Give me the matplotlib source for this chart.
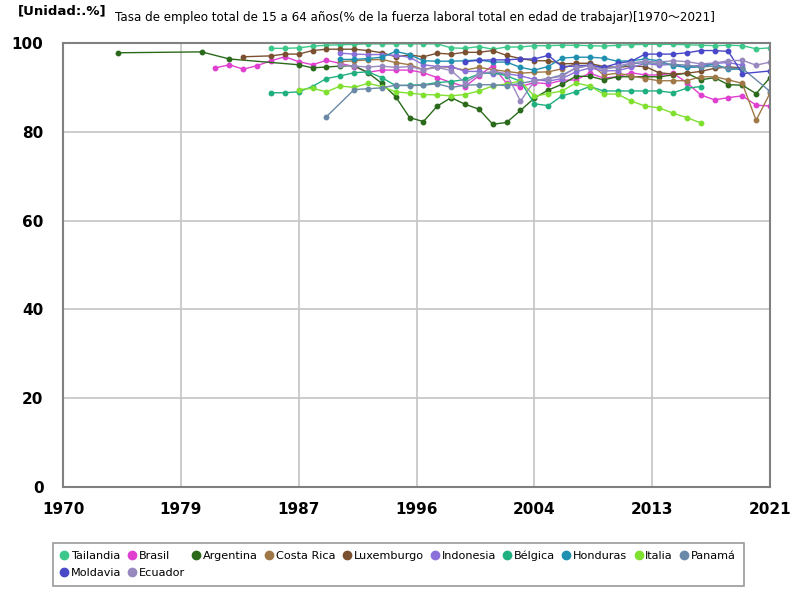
import matplotlib
matplotlib.use("Agg")
import matplotlib.pyplot as plt
from matplotlib.lines import Line2D

# --- DATA ---
tailandia_years = list(range(1985, 2022))
tailandia = [98.8, 98.8, 98.9, 99.3, 99.5, 99.6, 99.7, 99.8, 99.8, 99.8,
             99.8, 99.8, 99.8, 98.9, 98.8, 99.2, 98.6, 99.1, 99.1, 99.4,
             99.4, 99.5, 99.5, 99.4, 99.3, 99.5, 99.6, 99.7, 99.7, 99.7,
             99.6, 99.5, 99.4, 99.5, 99.4, 98.7, 98.9]

brasil_years = list(range(1981, 2022))
brasil = [94.4, 95.1, 94.1, 94.9, 96.0, 96.9, 95.8, 95.1, 96.1, 95.4,
          94.7, 93.4, 93.9, 93.9, 93.9, 93.3, 92.2, 91.1, 90.2, 92.6,
          94.9, 90.9, 90.2, 91.1, 90.8, 91.6, 91.7, 93.2, 92.1, 92.4,
          93.3, 92.8, 92.8, 93.2, 91.1, 88.3, 87.2, 87.7, 88.1, 86.0, 85.8]

argentina_years = [1974, 1980, 1982] + list(range(1987, 2022))
argentina = [97.8, 98.0, 96.4,
             95.1, 94.4, 94.6, 94.8, 94.9, 93.3, 90.9, 87.9, 83.2, 82.3,
             85.8, 87.7, 86.2, 85.1, 81.7, 82.1, 84.8, 87.6, 89.4, 90.7,
             92.5, 92.5, 91.7, 92.4, 92.4, 92.4, 92.4, 92.8, 93.2, 91.7,
             92.2, 90.6, 90.5, 88.6, 92.2]

costa_rica_years = list(range(1990, 2022))
costa_rica = [95.8, 96.0, 96.2, 96.3, 95.6, 95.1, 94.0, 94.7, 94.5, 93.9,
              94.5, 94.0, 93.6, 93.2, 93.4, 93.5, 94.2, 95.4, 95.4, 92.8,
              93.2, 92.6, 92.0, 91.5, 91.5, 91.5, 92.4, 92.4, 91.7, 90.9,
              82.6, 88.7]

luxemburgo_years = [1983] + list(range(1985, 2020))
luxemburgo = [96.9,
              97.1, 97.5, 97.5, 98.3, 98.6, 98.6, 98.6, 98.3, 97.8, 96.9,
              97.3, 96.9, 97.7, 97.5, 97.9, 97.9, 98.3, 97.2, 96.5, 96.0,
              96.0, 95.3, 95.4, 95.4, 94.7, 94.5, 94.8, 94.7, 93.3, 93.0,
              93.2, 93.6, 94.3, 94.6, 94.4]

indonesia_years = list(range(1990, 2020))
indonesia = [97.7, 97.5, 97.4, 97.4, 97.2, 96.8, 95.1, 94.7, 94.7, 93.6,
             93.6, 93.0, 93.1, 92.6, 91.8, 91.4, 92.0, 93.5, 94.4, 93.7,
             93.8, 94.5, 95.4, 95.0, 95.2, 94.6, 95.0, 95.4, 95.6, 95.0]

belgica_years = list(range(1985, 2017))
belgica = [88.8, 88.8, 89.0, 90.2, 92.0, 92.6, 93.3, 93.5, 92.2, 90.4,
           90.5, 90.6, 91.1, 91.3, 91.8, 93.0, 93.4, 92.6, 91.4, 86.3,
           85.9, 88.1, 89.0, 90.2, 89.2, 89.2, 89.2, 89.2, 89.2, 88.8,
           89.8, 90.2]

honduras_years = list(range(1990, 2020))
honduras = [96.3, 96.3, 96.5, 96.8, 98.1, 97.4, 96.0, 95.9, 95.9, 96.0,
            96.2, 95.7, 95.7, 94.5, 93.9, 94.7, 96.6, 96.8, 96.8, 96.6,
            95.9, 96.0, 96.4, 96.0, 94.9, 94.5, 94.6, 95.3, 94.1, 94.1]

italia_years = list(range(1987, 2017))
italia = [89.5, 89.8, 89.0, 90.3, 90.0, 90.9, 90.2, 89.0, 88.7, 88.4,
          88.3, 88.1, 88.4, 89.2, 90.3, 90.8, 91.4, 88.0, 88.6, 89.2,
          91.0, 90.3, 88.5, 88.5, 86.9, 85.8, 85.4, 84.2, 83.2, 82.0]

panama_years = [1989] + list(range(1991, 2020)) + [2021]
panama = [83.4,
          89.5, 89.7, 89.9, 90.5, 90.4, 90.5, 90.8, 90.0, 90.5, 90.6,
          90.6, 90.4, 90.9, 91.5, 92.0, 92.8, 94.3, 95.0, 94.3, 94.5,
          95.3, 95.6, 95.4, 95.2, 95.0, 94.6, 94.8, 94.3, 94.3,
          89.1]

moldavia_years = list(range(1999, 2020)) + [2021]
moldavia = [95.8, 96.1, 96.2, 96.2, 96.4, 96.4, 97.2, 94.7, 94.8, 95.0,
            94.5, 95.4, 95.9, 97.5, 97.5, 97.5, 97.8, 98.3, 98.3, 98.1, 93.1,
            93.7]

ecuador_years = list(range(1990, 2022))
ecuador = [95.0, 94.8, 94.6, 94.8, 94.5, 94.7, 94.0, 94.5, 93.8, 91.0,
           93.0, 93.6, 93.1, 86.9, 91.4, 92.0, 92.5, 94.5, 94.9, 94.0,
           94.8, 95.5, 95.9, 95.7, 96.0, 95.8, 95.3, 95.5, 96.0, 96.1,
           95.0, 95.7]

names = ["Tailandia", "Brasil", "Argentina", "Costa Rica", "Luxemburgo",
         "Indonesia", "Bélgica", "Honduras", "Italia", "Panamá",
         "Moldavia", "Ecuador"]
colors = ["#3cc88a", "#e040d0", "#2a6a1a", "#a07848", "#7a5030",
          "#8a70d8", "#20b080", "#2090b0", "#80e030", "#6a88a8",
          "#4848c8", "#9888c0"]
series = [(tailandia_years, tailandia), (brasil_years, brasil),
          (argentina_years, argentina), (costa_rica_years, costa_rica),
          (luxemburgo_years, luxemburgo), (indonesia_years, indonesia),
          (belgica_years, belgica), (honduras_years, honduras),
          (italia_years, italia), (panama_years, panama),
          (moldavia_years, moldavia), (ecuador_years, ecuador)]

xtick_pos = [1970, 1978.5, 1987, 1995.5, 2004, 2012.5, 2021]
xtick_labels = ["1970", "1979", "1987", "1996", "2004", "2013", "2021"]

# --- PLOT ---
fig = plt.figure(figsize=(8, 6), dpi=100)
ax = fig.add_axes([63 / 800, 1 - 487 / 600, 707 / 800, 444 / 600])

for name, col, (xs, ys) in zip(names, colors, series):
    ax.plot(xs, ys, color=col, lw=1.0, marker="o", ms=3.2, label=name)

ax.set_xlim(1970, 2021)
ax.set_ylim(0, 100)
ax.set_xticks(xtick_pos)
ax.set_xticklabels(xtick_labels)
ax.set_yticks(range(0, 101, 20))
ax.grid(True, color="#c4c4c4", lw=1.2)
ax.set_axisbelow(True)
ax.tick_params(length=0, labelsize=11)
ax.tick_params(axis="y", pad=14)
ax.tick_params(axis="x", pad=11)
for lab in ax.get_xticklabels() + ax.get_yticklabels():
    lab.set_fontweight("bold")
for sp in ax.spines.values():
    sp.set_color("#808080")
    sp.set_linewidth(1.5)

fig.text(18 / 800, 1 - 11 / 600, "[Unidad:.%]", fontsize=9.5, fontweight="bold",
         va="center", ha="left")
fig.text(115 / 800, 1 - 17 / 600,
         "Tasa de empleo total de 15 a 64 años(% de la fuerza laboral total en edad de trabajar)[1970～2021]",
         fontsize=8.6, va="center", ha="left",
         family=["DejaVu Sans", "Noto Sans CJK JP"])

# legend laid out row by row (10 per row)
handles = [Line2D([], [], color=c, marker="o", ls="", ms=6) for c in colors]
blank = Line2D([], [], ls="", marker="")
ncol = 10
ordered_h, ordered_l = [], []
for c in range(ncol):
    ordered_h.append(handles[c])
    ordered_l.append(names[c])
    if c + ncol < len(names):
        ordered_h.append(handles[c + ncol])
        ordered_l.append(names[c + ncol])
    else:
        ordered_h.append(blank)
        ordered_l.append("")
leg = fig.legend(ordered_h, ordered_l, ncol=ncol, loc="upper left",
                 bbox_to_anchor=(47 / 800, 1 - 537 / 600), fontsize=8.1,
                 frameon=True, fancybox=False, handlelength=0.6,
                 handletextpad=0.3, columnspacing=0.7, borderpad=0.7,
                 labelspacing=0.6)
leg.get_frame().set_edgecolor("#808080")
leg.get_frame().set_linewidth(1.2)

fig.savefig("out.png", dpi=100)
